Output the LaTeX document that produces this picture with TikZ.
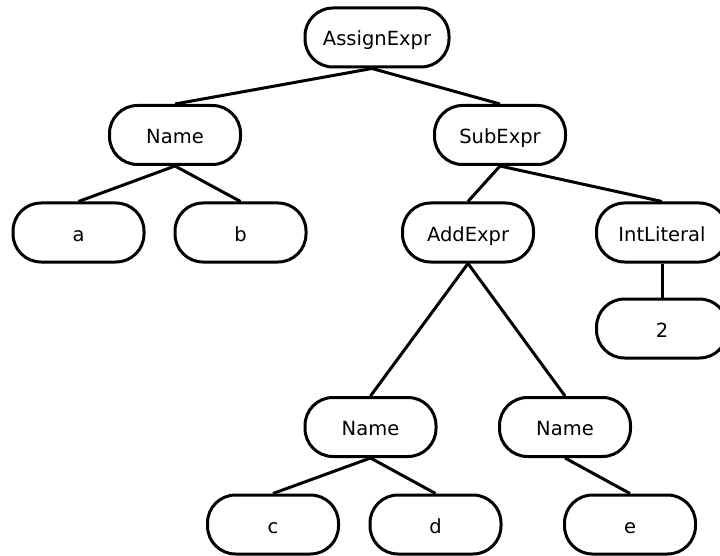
\documentclass[tikz,border=0pt]{standalone}
\usepackage{fontspec}
\setmainfont{DejaVu Sans}
\begin{document}
\begin{tikzpicture}[x=1pt,y=-1pt,
  tnode/.style={draw=black,line width=3pt,rounded corners=28pt,minimum width=131pt,minimum height=59pt,inner sep=0pt,text height=20pt,text depth=3pt,font=\fontsize{19.5}{23}\selectfont,fill=white},
  tedge/.style={draw=black,line width=3pt}]
\useasboundingbox (0,0) rectangle (720,556);
\node[tnode,minimum width=144pt] (assign) at (377,37.5) {AssignExpr};
\node[tnode] (name1) at (175,135) {Name};
\node[tnode] (sub) at (500,135) {SubExpr};
\node[tnode] (a) at (78.5,232.5) {a};
\node[tnode] (b) at (240.5,232.5) {b};
\node[tnode] (add) at (468,232.5) {AddExpr};
\node[tnode] (int) at (662,232.5) {IntLiteral};
\node[tnode] (two) at (662,328.5) {2};
\node[tnode] (name2) at (370.5,427) {Name};
\node[tnode] (name3) at (565,427) {Name};
\node[tnode] (c) at (273,524.5) {c};
\node[tnode] (d) at (435.5,524.5) {d};
\node[tnode] (e) at (630,524.5) {e};
\draw[tedge] ([xshift=-5pt]assign.south) -- (name1.north);
\draw[tedge] ([xshift=-5pt]assign.south) -- (sub.north);
\draw[tedge] (name1.south) -- (a.north);
\draw[tedge] (name1.south) -- (b.north);
\draw[tedge] (sub.south) -- (add.north);
\draw[tedge] (sub.south) -- (int.north);
\draw[tedge] (int.south) -- (two.north);
\draw[tedge] (add.south) -- (name2.north);
\draw[tedge] (add.south) -- (name3.north);
\draw[tedge] (name2.south) -- (c.north);
\draw[tedge] (name2.south) -- (d.north);
\draw[tedge] (name3.south) -- (e.north);
\end{tikzpicture}
\end{document}
